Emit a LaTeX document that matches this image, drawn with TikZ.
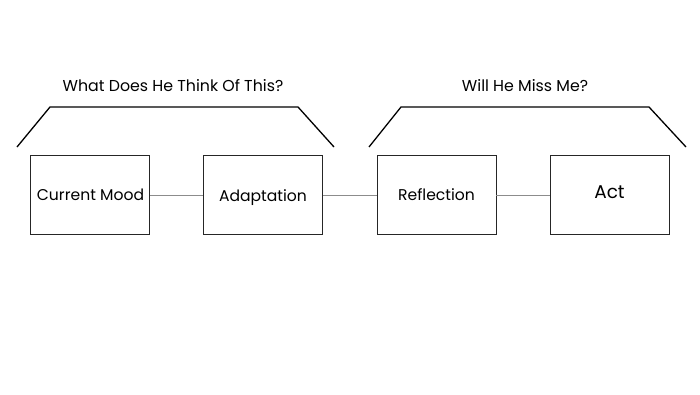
\documentclass[tikz,border=0pt]{standalone}
\usepackage{fontspec}
\setmainfont{Poppins}
\begin{document}
\begin{tikzpicture}[x=1pt,y=-1pt,
  box/.style={draw=black!85,line width=0.9pt,minimum width=119pt,minimum height=79pt,inner sep=0pt},
  lbl/.style={font=\fontsize{15.6}{18}\selectfont,inner sep=0pt,anchor=base},
  link/.style={draw=black!45,line width=0.8pt},
  brack/.style={draw=black,line width=1.3pt},
  ttl/.style={font=\fontsize{15.8}{18}\selectfont,inner sep=0pt,anchor=base}]
\fill[white] (0,0) rectangle (700,394);
\useasboundingbox (0,0) rectangle (700,394);
\node[box] (cm) at (90,195) {};
\node[box] (ad) at (263,195) {};
\node[box] (re) at (436.5,195) {};
\node[box] (act) at (609.5,195) {};
\node[lbl] (tcm) at (90.5,200.5) {Current Mood};
\node[lbl] (tad) at (263,201.5) {Adaptation};
\node[lbl] (tre) at (436.5,200) {Reflection};
\node[lbl,font=\fontsize{18.5}{21}\selectfont] (tact) at (609.5,198.3) {Act};
\draw[link] (cm.east) -- (ad.west);
\draw[link] (ad.east) -- (re.west);
\draw[link] (re.east) -- (act.west);
\coordinate (a1) at (17,147);
\coordinate (a2) at (50,107);
\coordinate (a3) at (298,107);
\coordinate (a4) at (334,147);
\draw[brack] (a1) -- (a2) -- (a3) -- (a4);
\coordinate (b1) at (369,147);
\coordinate (b2) at (401,107);
\coordinate (b3) at (649,107);
\coordinate (b4) at (686,147);
\draw[brack] (b1) -- (b2) -- (b3) -- (b4);
\node[ttl] (t1) at (173,91.5) {What Does He Think Of This?};
\node[ttl] (t2) at (525,91.3) {Will He Miss Me?};
\end{tikzpicture}
\end{document}
